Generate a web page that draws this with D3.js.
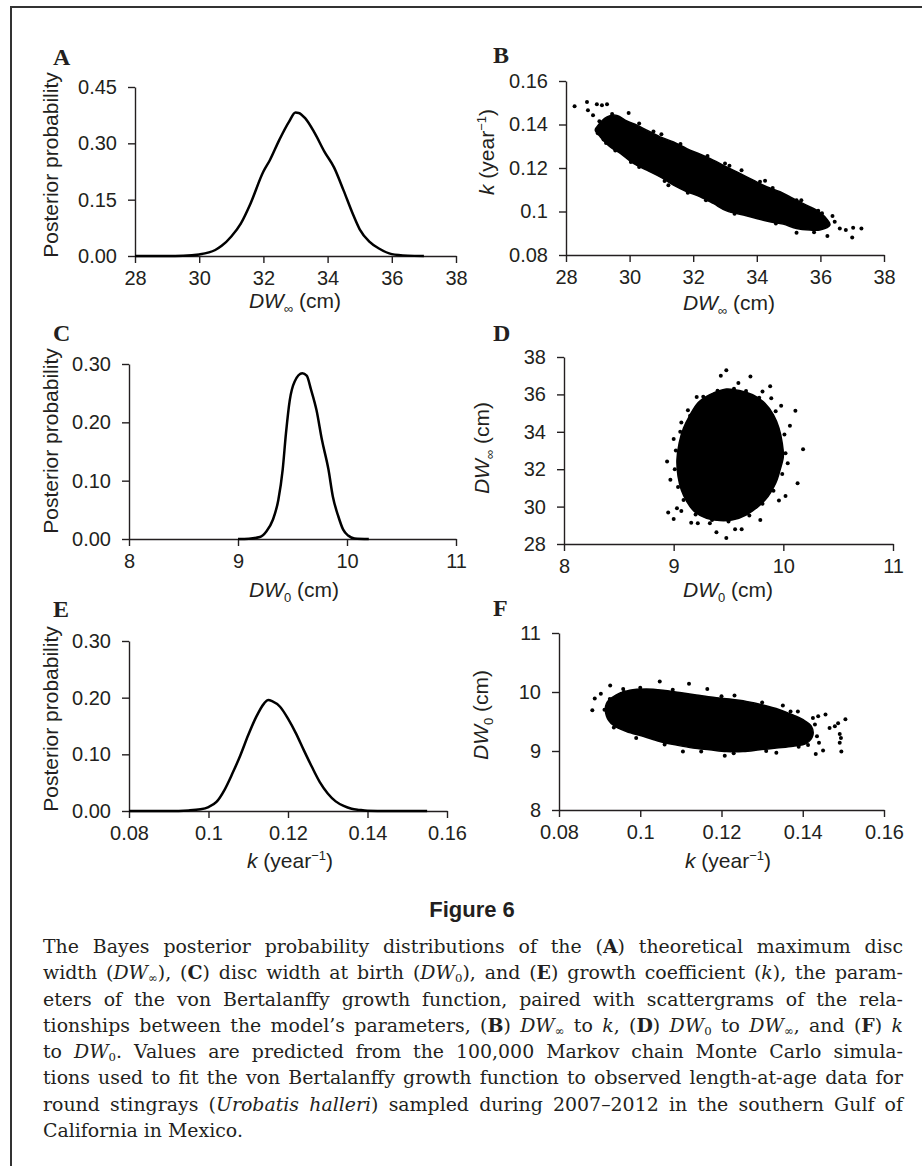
<!DOCTYPE html>
<html>
<head>
<meta charset="utf-8">
<script src="https://cdn.jsdelivr.net/npm/d3@7"></script>
<style>
    body { margin: 0; background: #fff; }
    #wrap { position: relative; width: 922px; height: 1166px; overflow: hidden; }
    #wrap svg { position: absolute; left: 0; top: 0; }
    .fig-title { position: absolute; left: 0; width: 944px; text-align: center; top: 897px;
        font-family: "Liberation Sans", Arial, sans-serif; font-weight: bold; font-size: 22px; color: #231f20; }
    .caption { position: absolute; left: 43px; top: 933px; width: 860px;
        font-family: "DejaVu Serif", serif; font-size: 19px; line-height: 26.3px; color: #231f20; }
    .caption div { text-align: justify; text-align-last: justify; height: 26.3px; }
    .caption div.last { text-align-last: left; }
    .caption.measure div { white-space: nowrap; }
    .caption sub { font-size: 0.62em; line-height: 0; vertical-align: -0.25em; }
</style>
</head>
<body>
<div id="wrap"></div>
<script>
"use strict";

// ---- data ----

// A: posterior density of DW_inf
const dwInfValues = [28, 29, 29.5, 30, 30.5, 30.7, 31.0, 31.3, 31.6, 32.0, 32.2, 32.5, 32.8, 33.0, 33.1, 33.3,
    33.6, 33.9, 34.2, 34.5, 34.8, 35.0, 35.3, 35.6, 36.0, 36.5, 37.0];
const dwInfDensity = [0, 0, 0.0005, 0.004, 0.016, 0.027, 0.052, 0.087, 0.14, 0.225, 0.255, 0.31, 0.358, 0.382, 0.381, 0.367,
    0.327, 0.278, 0.236, 0.174, 0.109, 0.071, 0.038, 0.020, 0.005, 0.001, 0];

// C: posterior density of DW_0
const dw0Values = [9.0, 9.1, 9.2, 9.26, 9.32, 9.37, 9.41, 9.44, 9.475, 9.52, 9.59, 9.63, 9.67, 9.72, 9.77,
    9.83, 9.87, 9.92, 9.965, 10.01, 10.07, 10.2];
const dw0Density = [0, 0.0006, 0.0034, 0.013, 0.033, 0.067, 0.119, 0.181, 0.238, 0.270, 0.284, 0.280, 0.256, 0.221, 0.170,
    0.119, 0.073, 0.039, 0.016, 0.006, 0.001, 0];

// E: posterior density of k
const kValues = [0.08, 0.09, 0.095, 0.098, 0.1, 0.102, 0.104, 0.106, 0.108, 0.110, 0.112, 0.114, 0.115, 0.116, 0.118,
    0.120, 0.122, 0.124, 0.126, 0.128, 0.130, 0.132, 0.134, 0.136, 0.138, 0.14, 0.145, 0.155];
const kDensity = [0, 0, 0.001, 0.003, 0.007, 0.016, 0.037, 0.066, 0.098, 0.134, 0.166, 0.190, 0.196, 0.194, 0.184,
    0.163, 0.137, 0.107, 0.078, 0.051, 0.031, 0.017, 0.009, 0.004, 0.002, 0.0006, 0, 0];

// B: DW_inf vs k, outline of the dense cloud and stray points
const dwInfKCloud = [[28.97, 0.1389], [29.29, 0.1435], [29.60, 0.1442], [29.91, 0.1416], [30.23, 0.1397], [30.54, 0.1374],
    [30.96, 0.1343], [31.38, 0.1320], [31.80, 0.1289], [32.22, 0.1263], [32.63, 0.1236], [33.05, 0.1205], [33.47, 0.1175],
    [33.89, 0.1144], [34.31, 0.1114], [34.73, 0.1091], [35.14, 0.1060], [35.56, 0.1029], [35.88, 0.1006], [36.14, 0.0976],
    [36.30, 0.0938], [35.98, 0.0915], [35.67, 0.0915], [35.25, 0.0922], [34.83, 0.0942], [34.41, 0.0953], [33.99, 0.0968],
    [33.58, 0.0984], [33.05, 0.1003], [32.63, 0.1037], [32.22, 0.1068], [31.80, 0.1091], [31.38, 0.1121], [30.96, 0.1159],
    [30.54, 0.1190], [30.12, 0.1221], [29.71, 0.1267], [29.39, 0.1297], [29.08, 0.1343], [28.92, 0.1374]];
const dwInfKStray = [[28.27, 0.1484], [28.66, 0.1504], [28.69, 0.1465], [28.85, 0.1442], [28.97, 0.1493], [29.13, 0.1488],
    [29.29, 0.1493], [29.97, 0.1453], [29.18, 0.1331], [29.26, 0.1315], [30.04, 0.1228], [31.22, 0.1121], [31.83, 0.1086],
    [33.00, 0.1221], [33.14, 0.1210], [33.52, 0.1190], [34.10, 0.1137], [34.26, 0.1141], [35.25, 0.1052], [35.93, 0.1003],
    [36.38, 0.0979], [36.45, 0.0953], [36.61, 0.0922], [36.80, 0.0915], [37.03, 0.0925], [37.29, 0.0922], [37.00, 0.0881],
    [36.22, 0.0887], [35.25, 0.0902], [29.05, 0.1415], [29.45, 0.1448], [30.30, 0.1405], [30.75, 0.1368], [31.00, 0.1355],
    [31.60, 0.1310], [32.45, 0.1255], [34.50, 0.1108], [35.40, 0.1052], [36.05, 0.0992], [35.80, 0.0905], [34.60, 0.0945],
    [33.30, 0.0990], [32.40, 0.1052], [31.10, 0.1140], [30.30, 0.1205], [29.55, 0.1280], [29.00, 0.1360]];

// D: DW_0 vs DW_inf
const dw0DwInfCloud = [[9.36, 36.07], [9.48, 36.29], [9.60, 36.21], [9.72, 35.98], [9.83, 35.54], [9.91, 34.91], [9.96, 34.20],
    [9.99, 33.39], [10.00, 32.68], [9.97, 31.96], [9.93, 31.25], [9.86, 30.54], [9.77, 30.00], [9.66, 29.55], [9.54, 29.29],
    [9.42, 29.25], [9.30, 29.38], [9.19, 29.73], [9.12, 30.27], [9.07, 30.89], [9.04, 31.61], [9.03, 32.50], [9.05, 33.39],
    [9.09, 34.20], [9.15, 34.91], [9.22, 35.54], [9.30, 35.89]];
const dw0DwInfStray = [[9.48, 37.29], [9.43, 37.0], [9.70, 36.96], [9.59, 36.61], [9.81, 36.16], [9.88, 36.43], [9.89, 35.80],
    [9.98, 35.39], [10.11, 35.13], [10.06, 34.32], [10.18, 33.07], [10.13, 31.25], [10.04, 32.32], [10.02, 30.57], [9.96, 30.32],
    [9.79, 29.29], [9.62, 28.79], [9.56, 28.79], [9.48, 28.32], [9.39, 28.63], [9.33, 29.11], [9.22, 29.11], [9.16, 29.14],
    [9.07, 29.77], [9.00, 29.34], [8.95, 29.68], [9.03, 29.91], [8.94, 32.41], [8.97, 31.43], [9.00, 33.61], [9.07, 34.50],
    [9.15, 34.86], [9.21, 35.86], [9.40, 36.20], [9.55, 36.30], [9.66, 36.18], [9.78, 35.82], [9.93, 35.10], [10.01, 33.85],
    [10.02, 32.85], [9.99, 31.75], [9.91, 30.85], [9.81, 30.15], [9.69, 29.52], [9.50, 29.20], [9.35, 29.28], [9.20, 29.58],
    [9.09, 30.35], [9.04, 31.05], [9.01, 32.00], [9.02, 33.00], [9.06, 34.00], [9.13, 35.15], [9.27, 35.88]];

// F: k vs DW_0
const kDw0Cloud = [[0.0917, 9.81], [0.0941, 9.95], [0.0974, 10.03], [0.1015, 10.05], [0.1056, 10.03], [0.1097, 9.99],
    [0.1138, 9.95], [0.1179, 9.91], [0.1220, 9.88], [0.1261, 9.84], [0.1302, 9.78], [0.1343, 9.70], [0.1376, 9.61],
    [0.1401, 9.53], [0.1421, 9.42], [0.1425, 9.27], [0.1409, 9.13], [0.1376, 9.08], [0.1335, 9.05], [0.1294, 9.02],
    [0.1253, 8.99], [0.1212, 8.99], [0.1171, 9.02], [0.1130, 9.05], [0.1089, 9.10], [0.1048, 9.16], [0.1007, 9.25],
    [0.0966, 9.33], [0.0933, 9.44], [0.0917, 9.59]];
const kDw0Stray = [[0.0882, 9.69], [0.0888, 9.89], [0.0903, 9.97], [0.0926, 10.11], [0.0958, 10.05], [0.1048, 10.18],
    [0.1120, 10.14], [0.1165, 10.05], [0.1232, 9.94], [0.1351, 9.77], [0.1388, 9.67], [0.1425, 9.56], [0.1438, 9.59],
    [0.1456, 9.62], [0.1466, 9.39], [0.1479, 9.42], [0.1487, 9.47], [0.1505, 9.54], [0.1491, 9.29], [0.1494, 9.22],
    [0.1491, 9.14], [0.1495, 8.99], [0.1450, 9.01], [0.1432, 8.95], [0.1440, 9.14], [0.1413, 9.10], [0.1335, 8.97],
    [0.1208, 8.92], [0.1105, 8.99], [0.0925, 9.88], [0.0960, 10.00], [0.1000, 10.07], [0.1080, 10.04], [0.1200, 9.93],
    [0.1300, 9.82], [0.1370, 9.67], [0.1430, 9.45], [0.1435, 9.25], [0.1390, 9.07], [0.1310, 9.00], [0.1230, 8.96],
    [0.1150, 8.99], [0.1060, 9.11], [0.0990, 9.22], [0.0935, 9.40], [0.0912, 9.70]];

// tick values and their printed labels
const dwInfTicks = [28, 30, 32, 34, 36, 38];
const dwInfLabels = ["28", "30", "32", "34", "36", "38"];
const dw0Ticks = [8, 9, 10, 11];
const dw0Labels = ["8", "9", "10", "11"];
const kTicks = [0.08, 0.1, 0.12, 0.14, 0.16];
const kLabels = ["0.08", "0.1", "0.12", "0.14", "0.16"];
const probTicksA = [0, 0.15, 0.30, 0.45];
const probLabelsA = ["0.00", "0.15", "0.30", "0.45"];
const probTicksCE = [0, 0.10, 0.20, 0.30];
const probLabelsCE = ["0.00", "0.10", "0.20", "0.30"];
const dwInfYTicks = [28, 30, 32, 34, 36, 38];
const dwInfYLabels = ["28", "30", "32", "34", "36", "38"];

// ---- drawing ----

const ink = "#231f20";
const axisFont = "'Liberation Sans', Arial, Helvetica, sans-serif";

const svg = d3.select("#wrap").append("svg")
    .attr("width", 922)
    .attr("height", 1166);

// page frame: top and left rules
svg.append("line").attr("x1", 10).attr("y1", 7).attr("x2", 922).attr("y2", 7)
    .attr("stroke", "#333").attr("stroke-width", 2);
svg.append("line").attr("x1", 11).attr("y1", 6).attr("x2", 11).attr("y2", 1166)
    .attr("stroke", "#333").attr("stroke-width", 2);

// writes a label made of plain / italic / sub / sup pieces
function richText(text, parts) {
    parts.forEach(p => {
        let t = text.append("tspan").text(p.t);
        if (p.i) t.attr("font-style", "italic");
        if (p.sub) t.attr("font-size", 13).attr("dy", 5);
        if (p.sup) t.attr("font-size", 13).attr("dy", -8);
        if (p.back) t.attr("dy", p.back);
    });
}

const parts = {
    dwInf: [{ t: "DW", i: true }, { t: "\u221e", sub: true }, { t: " (cm)", back: -5 }],
    dw0: [{ t: "DW", i: true }, { t: "0", sub: true }, { t: " (cm)", back: -5 }],
    k: [{ t: "k", i: true }, { t: " (year" }, { t: "\u22121", sup: true }, { t: ")", back: 8 }],
    prob: [{ t: "Posterior probability" }]
};

function drawPanel(p) {
    let x = d3.scaleLinear().domain(p.xDomain).range([p.left, p.right]);
    let y = d3.scaleLinear().domain(p.yDomain).range([p.bottom, p.top]);
    let g = svg.append("g");

    // panel letter
    g.append("text")
        .attr("x", p.letterX)
        .attr("y", p.letterY)
        .attr("font-family", "'Liberation Serif', 'Times New Roman', serif")
        .attr("font-weight", "bold")
        .attr("font-size", 24)
        .attr("fill", ink)
        .text(p.letter);

    // x-axis
    let xAxis = g.append("g")
        .attr("transform", `translate(0,${p.bottom})`)
        .call(d3.axisBottom(x).tickValues(p.xTicks).tickFormat((_d, i) => p.xLabels[i])
            .tickSize(7).tickSizeOuter(0).tickPadding(8));

    // y-axis
    let yAxis = g.append("g")
        .attr("transform", `translate(${p.left},0)`)
        .call(d3.axisLeft(y).tickValues(p.yTicks).tickFormat((_d, i) => p.yLabels[i])
            .tickSize(7).tickSizeOuter(0).tickPadding(11));

    [xAxis, yAxis].forEach(a => {
        a.attr("font-family", axisFont).attr("font-size", 20);
        a.select(".domain").attr("stroke", ink).attr("stroke-width", 1.4);
        a.selectAll(".tick line").attr("stroke", ink).attr("stroke-width", 1.4);
        a.selectAll(".tick text").attr("fill", ink);
    });

    // axis titles
    let xt = g.append("text")
        .attr("x", p.xTitleX).attr("y", p.xTitleY)
        .attr("text-anchor", "middle")
        .attr("font-family", axisFont).attr("font-size", 21).attr("fill", ink);
    richText(xt, p.xTitle);

    let yt = g.append("text")
        .attr("transform", `translate(${p.yTitleX},${p.yTitleY}) rotate(-90)`)
        .attr("text-anchor", "middle")
        .attr("font-family", axisFont).attr("font-size", 21).attr("fill", ink);
    richText(yt, p.yTitle);

    // density curve
    if (p.curveX) {
        let pts = p.curveX.map((v, i) => [v, p.curveY[i]]);
        g.append("path")
            .datum(pts)
            .attr("fill", "none")
            .attr("stroke", "#000")
            .attr("stroke-width", 2.5)
            .attr("stroke-linejoin", "round")
            .attr("d", d3.line().x(d => x(d[0])).y(d => y(d[1])).curve(d3.curveMonotoneX));
    }

    // scatter: dense cloud as a filled outline, plus the stray points
    if (p.cloud) {
        g.append("path")
            .datum(p.cloud)
            .attr("fill", "#000")
            .attr("stroke", "#000")
            .attr("stroke-width", 1.5)
            .attr("d", d3.line().x(d => x(d[0])).y(d => y(d[1])).curve(d3.curveCatmullRomClosed));

        g.selectAll(".dot")
            .data(p.stray)
            .enter()
            .append("circle")
            .attr("class", "dot")
            .attr("cx", d => x(d[0]))
            .attr("cy", d => y(d[1]))
            .attr("r", 2)
            .attr("fill", "#000");
    }
}

const panels = [
    { letter: "A", letterX: 53, letterY: 65, left: 135, right: 456, top: 87, bottom: 256,
        xDomain: [28, 38], yDomain: [0, 0.45], xTicks: dwInfTicks, xLabels: dwInfLabels,
        yTicks: probTicksA, yLabels: probLabelsA, xTitle: parts.dwInf, xTitleX: 295, xTitleY: 308,
        yTitle: parts.prob, yTitleX: 58, yTitleY: 165, curveX: dwInfValues, curveY: dwInfDensity },
    { letter: "B", letterX: 493, letterY: 63, left: 566, right: 884, top: 81, bottom: 255,
        xDomain: [28, 38], yDomain: [0.08, 0.16], xTicks: dwInfTicks, xLabels: dwInfLabels,
        yTicks: kTicks, yLabels: kLabels, xTitle: parts.dwInf, xTitleX: 729, xTitleY: 310,
        yTitle: parts.k, yTitleX: 494, yTitleY: 152, cloud: dwInfKCloud, stray: dwInfKStray },
    { letter: "C", letterX: 53, letterY: 341, left: 129, right: 456, top: 364, bottom: 539,
        xDomain: [8, 11], yDomain: [0, 0.30], xTicks: dw0Ticks, xLabels: dw0Labels,
        yTicks: probTicksCE, yLabels: probLabelsCE, xTitle: parts.dw0, xTitleX: 294, xTitleY: 597,
        yTitle: parts.prob, yTitleX: 58, yTitleY: 441, curveX: dw0Values, curveY: dw0Density },
    { letter: "D", letterX: 493, letterY: 341, left: 564, right: 893, top: 357, bottom: 544,
        xDomain: [8, 11], yDomain: [28, 38], xTicks: dw0Ticks, xLabels: dw0Labels,
        yTicks: dwInfYTicks, yLabels: dwInfYLabels, xTitle: parts.dw0, xTitleX: 728, xTitleY: 597,
        yTitle: parts.dwInf, yTitleX: 489, yTitleY: 448, cloud: dw0DwInfCloud, stray: dw0DwInfStray },
    { letter: "E", letterX: 53, letterY: 617, left: 129, right: 447, top: 641, bottom: 811,
        xDomain: [0.08, 0.16], yDomain: [0, 0.30], xTicks: kTicks, xLabels: kLabels,
        yTicks: probTicksCE, yLabels: probLabelsCE, xTitle: parts.k, xTitleX: 290, xTitleY: 868,
        yTitle: parts.prob, yTitleX: 58, yTitleY: 719, curveX: kValues, curveY: kDensity },
    { letter: "F", letterX: 493, letterY: 616, left: 559, right: 884, top: 633, bottom: 810,
        xDomain: [0.08, 0.16], yDomain: [8, 11], xTicks: kTicks, xLabels: kLabels,
        yTicks: dw0Ticks, yLabels: dw0Labels, xTitle: parts.k, xTitleX: 728, xTitleY: 868,
        yTitle: parts.dw0, yTitleX: 488, yTitleY: 715, cloud: kDw0Cloud, stray: kDw0Stray }
];

panels.forEach(drawPanel);

// caption
const wrap = d3.select("#wrap");
wrap.append("div").attr("class", "fig-title").text("Figure 6");

const captionLines = [
    "The Bayes posterior probability distributions of the (<b>A</b>) theoretical maximum disc",
    "width (<i>DW</i><sub>\u221e</sub>), (<b>C</b>) disc width at birth (<i>DW</i><sub>0</sub>), and (<b>E</b>) growth coefficient (<i>k</i>), the param-",
    "eters of the von Bertalanffy growth function, paired with scattergrams of the rela-",
    "tionships between the model\u2019s parameters, (<b>B</b>) <i>DW</i><sub>\u221e</sub> to <i>k</i>, (<b>D</b>) <i>DW</i><sub>0</sub> to <i>DW</i><sub>\u221e</sub>, and (<b>F</b>) <i>k</i>",
    "to <i>DW</i><sub>0</sub>. Values are predicted from the 100,000 Markov chain Monte Carlo simula-",
    "tions used to fit the von Bertalanffy growth function to observed length-at-age data for",
    "round stingrays (<i>Urobatis halleri</i>) sampled during 2007\u20132012 in the southern Gulf of",
    "California in Mexico."
];

const baseSize = 19;
const cap = wrap.append("div").attr("class", "caption measure");
cap.selectAll("div")
    .data(captionLines)
    .enter()
    .append("div")
    .attr("class", (_d, i) => i === captionLines.length - 1 ? "last" : null)
    .html(d => `<span>${d}</span>`);

// shrink the caption font just enough for the widest line to fit
let widest = 0;
cap.selectAll("div span").each(function () {
    widest = Math.max(widest, this.getBoundingClientRect().width);
});
let size = Math.min(baseSize, baseSize * 856 / widest);
cap.style("font-size", `${size}px`).classed("measure", false);
</script>
</body>
</html>
